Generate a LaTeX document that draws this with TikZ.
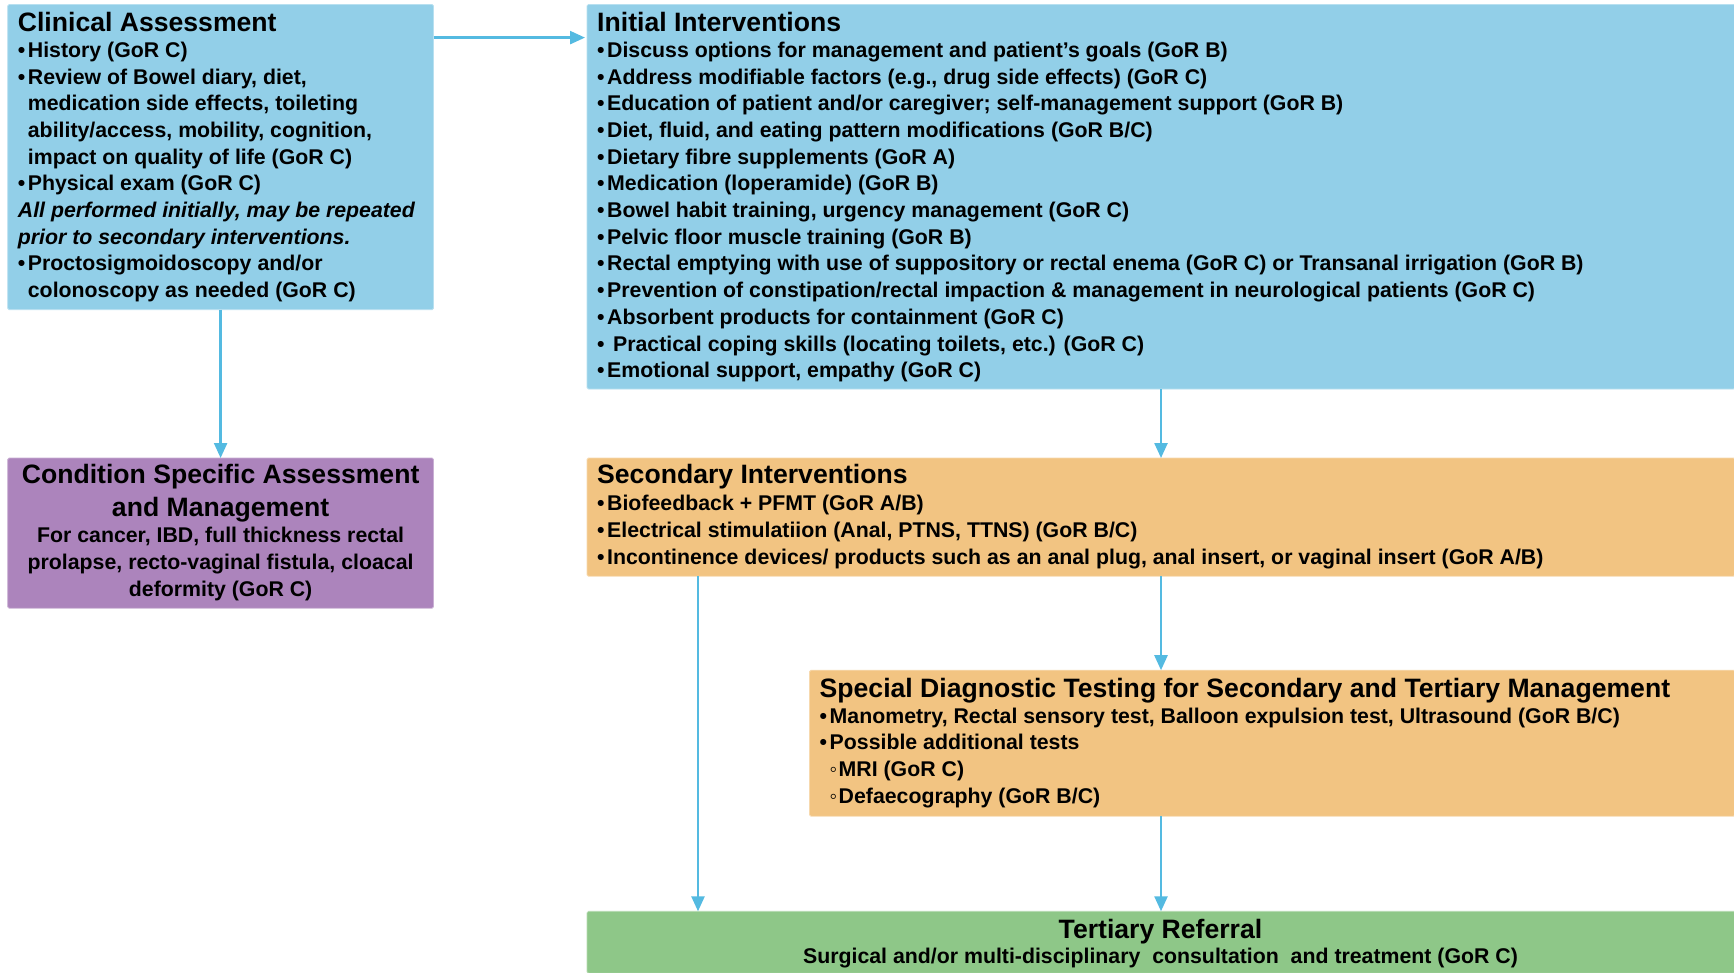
\documentclass[tikz,border=0pt]{standalone}
\usepackage{fontspec}
\setmainfont{Liberation Sans}
\usetikzlibrary{arrows.meta}

\definecolor{boxblue}{RGB}{146,207,232}
\definecolor{boxpurple}{RGB}{172,132,188}
\definecolor{boxorange}{RGB}{242,196,130}
\definecolor{boxgreen}{RGB}{142,199,136}
\definecolor{arrowblue}{RGB}{84,186,225}

\newcommand\titlefont{\fontsize{26.6}{32.1}\selectfont\bfseries}
\newcommand\bodyfont{\fontsize{21.3}{26.7}\selectfont\bfseries}
\newcommand\bu{\makebox[10pt][l]{•}}
\newcommand\subbu{\hspace*{10pt}\makebox[9pt][l]{◦}}
\newcommand\ind{\hspace*{10pt}}

\begin{document}
\begin{tikzpicture}[x=1pt,y=-1pt,
  panel/.style={anchor=north west, inner sep=0pt, outer sep=0pt,
    draw=white!35!#1, line width=0.8pt, fill=#1, rounded corners=1.5pt},
  heading/.style={anchor=base west, inner sep=0pt, font=\titlefont},
  items/.style={anchor=base west, inner sep=0pt, font=\bodyfont},
  arr/.style={draw=arrowblue, line width=2.4pt,
    -{Triangle[length=15pt,width=13pt]}}]

\useasboundingbox (0,0) rectangle (1734,972);
\fill[white] (0,0) rectangle (1734,972);

% boxes
\node[panel=boxblue, minimum width=425.8pt, minimum height=305.3pt] (ca) at (7.7,4.4) {};
\node[panel=boxblue, minimum width=1148pt, minimum height=384.6pt] (ii) at (587,4.4) {};
\node[panel=boxpurple, minimum width=425.8pt, minimum height=150.2pt] (cs) at (7.7,458) {};
\node[panel=boxorange, minimum width=1148pt, minimum height=118.2pt] (si) at (587,458) {};
\node[panel=boxorange, minimum width=925.5pt, minimum height=146pt] (sd) at (809.5,670.2) {};
\node[panel=boxgreen, minimum width=1148pt, minimum height=62pt] (tr) at (587,911.3) {};

% Clinical Assessment
\node[heading] (ca-t) at (17.7,31.6) {Clinical Assessment};
\node[items] (ca-b) at (17.7,57.3) {\begin{tabular}[t]{@{}l@{}}
\bu History (GoR C)\\
\bu Review of Bowel diary, diet,\\
\ind medication side effects, toileting\\
\ind ability/access, mobility, cognition,\\
\ind impact on quality of life (GoR C)\\
\bu Physical exam (GoR C)\\
{\itshape All performed initially, may be repeated}\\
{\itshape prior to secondary interventions.}\\
\bu Proctosigmoidoscopy and/or\\
\ind colonoscopy as needed (GoR C)
\end{tabular}};

% Initial Interventions
\node[heading] (ii-t) at (597,31.6) {Initial Interventions};
\node[items] (ii-b) at (597,57.3) {\begin{tabular}[t]{@{}l@{}}
\bu Discuss options for management and patient’s goals (GoR B)\\
\bu Address modifiable factors (e.g., drug side effects) (GoR C)\\
\bu Education of patient and/or caregiver; self-management support (GoR B)\\
\bu Diet, fluid, and eating pattern modifications (GoR B/C)\\
\bu Dietary fibre supplements (GoR A)\\
\bu Medication (loperamide) (GoR B)\\
\bu Bowel habit training, urgency management (GoR C)\\
\bu Pelvic floor muscle training (GoR B)\\
\bu Rectal emptying with use of suppository or rectal enema (GoR C) or Transanal irrigation (GoR B)\\
\bu Prevention of constipation/rectal impaction \& management in neurological patients (GoR C)\\
\bu Absorbent products for containment (GoR C)\\
\bu\ Practical coping skills (locating toilets, etc.) (GoR C)\\
\bu Emotional support, empathy (GoR C)
\end{tabular}};

% Condition Specific Assessment and Management
\node[anchor=base, inner sep=0pt, font=\titlefont] (cs-t) at (220.6,483.9) {\begin{tabular}[t]{@{}c@{}}
Condition Specific Assessment\\ and Management
\end{tabular}};
\node[anchor=base, inner sep=0pt, font=\bodyfont] (cs-b) at (220.6,542.8) {\begin{tabular}[t]{@{}c@{}}
For cancer, IBD, full thickness rectal\\
prolapse, recto-vaginal fistula, cloacal\\
deformity (GoR C)
\end{tabular}};

% Secondary Interventions
\node[heading] (si-t) at (597,483.9) {Secondary Interventions};
\node[items] (si-b) at (597,510.7) {\begin{tabular}[t]{@{}l@{}}
\bu Biofeedback + PFMT (GoR A/B)\\
\bu Electrical stimulatiion (Anal, PTNS, TTNS) (GoR B/C)\\
\bu Incontinence devices/ products such as an anal plug, anal insert, or vaginal insert (GoR A/B)
\end{tabular}};

% Special Diagnostic Testing
\node[heading] (sd-t) at (819.5,697.4) {Special Diagnostic Testing for Secondary and Tertiary Management};
\node[items] (sd-b) at (819.5,723) {\begin{tabular}[t]{@{}l@{}}
\bu Manometry, Rectal sensory test, Balloon expulsion test, Ultrasound (GoR B/C)\\
\bu Possible additional tests\\
\subbu MRI (GoR C)\\
\subbu Defaecography (GoR B/C)
\end{tabular}};

% Tertiary Referral
\node[anchor=base, inner sep=0pt, font=\titlefont] (tr-t) at (1160.5,938.5) {Tertiary Referral};
\node[anchor=base, inner sep=0pt, font=\bodyfont] (tr-b) at (1160.5,963) {Surgical and/or multi-disciplinary\ \ consultation\ \ and treatment (GoR C)};

% connectors
\draw[arr] ([yshift=-33.2pt]ca.north east) -- ([yshift=-33.2pt,xshift=-2pt]ii.north west);
\draw[arr] (ca.south) -- (cs.north);
\draw[arr] (ii.south -| si.north) -- (si.north);
\draw[arr] (si.north |- si.south) -- (si.north |- sd.north);
\draw[arr] ([xshift=111pt]si.south west) -- ([xshift=111pt]tr.north west);
\draw[arr] (si.north |- sd.south) -- (si.north |- tr.north);
\end{tikzpicture}
\end{document}
